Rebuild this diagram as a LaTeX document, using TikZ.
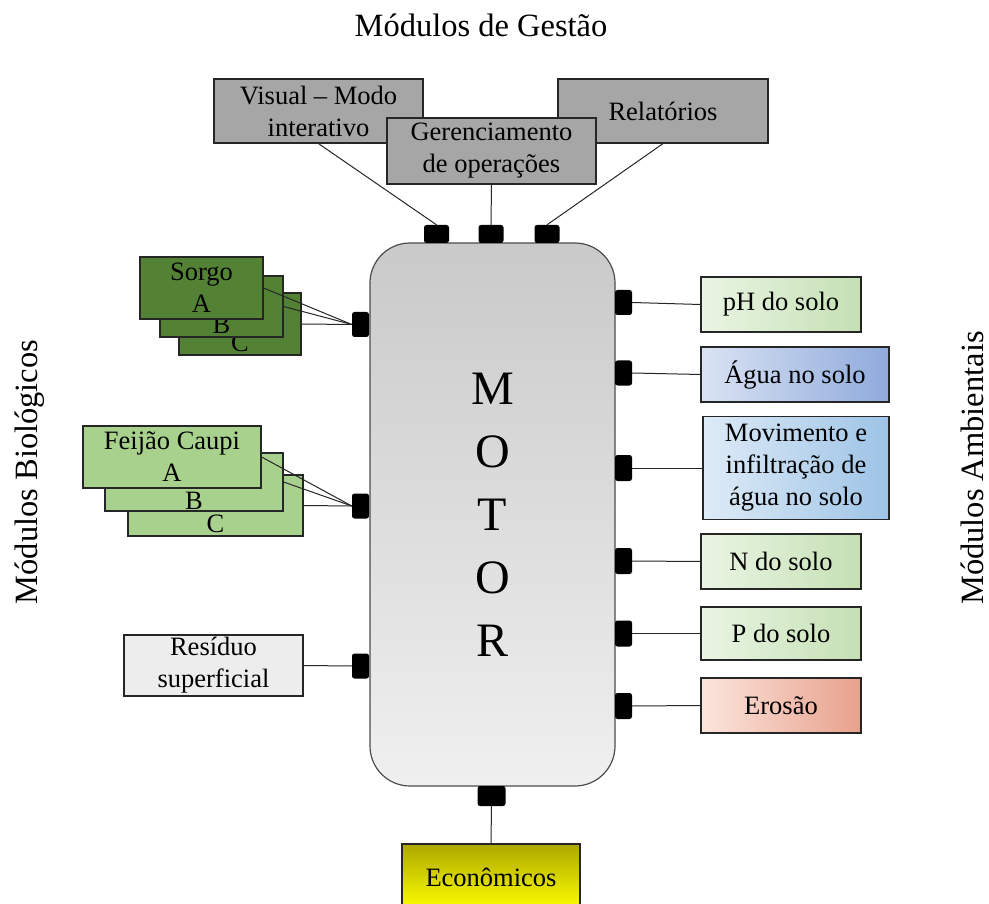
\documentclass[tikz,border=0pt]{standalone}
\usepackage{fontspec}
\setmainfont{Liberation Serif}

\definecolor{cinza}{RGB}{166,166,166}
\definecolor{residuo}{RGB}{237,237,237}
\definecolor{sorgo}{RGB}{84,130,53}
\definecolor{feijao}{RGB}{169,209,142}
\definecolor{verdeA}{RGB}{234,245,228}
\definecolor{verdeB}{RGB}{197,224,180}
\definecolor{azulA}{RGB}{218,227,243}
\definecolor{azulB}{RGB}{143,170,220}
\definecolor{celesteA}{RGB}{222,235,247}
\definecolor{celesteB}{RGB}{157,195,230}
\definecolor{rosaA}{RGB}{251,229,220}
\definecolor{rosaB}{RGB}{232,160,140}
\definecolor{oliva}{RGB}{172,168,0}

\begin{document}
\begin{tikzpicture}[yscale=-1
  ,pstyle0/.style={draw=black!85,line width=1.2pt,inner sep=0pt,align=center,font=\fontsize{26.5}{32}\selectfont}
  ,pstyle1/.style={color=black!85,line width=1pt}
  ,pstyle2/.style={fill=black,rounded corners=2.5pt,inner sep=0pt}
  ,pstyle3/.style={font=\fontsize{32.5}{38}\selectfont}
]
\useasboundingbox (0pt,0pt) rectangle (989pt,904pt);

% --- Titles ---
\node[pstyle3] (gestao) at (481pt,25pt) {Módulos de Gestão};
\node[pstyle3,rotate=90] (bio) at (30pt,472pt) {Módulos Biológicos};
\node[pstyle3,rotate=90] (amb) at (972pt,468pt) {Módulos Ambientais};

% --- Motor ---
\node[draw=black!70,line width=1.2pt,rounded corners=40pt,top color=black!21,bottom color=black!6
  ,minimum width=245pt,minimum height=543pt,align=center,font=\fontsize{48}{63}\selectfont]
  (motor) at (492.5pt,514.5pt) {M\\O\\T\\O\\R};

% --- Management modules ---
\node[pstyle0,fill=cinza,minimum width=209pt,minimum height=64pt] (vis) at (318.5pt,111pt) {Visual -- Modo\\interativo};
\node[pstyle0,fill=cinza,minimum width=210pt,minimum height=64pt] (rel) at (663pt,111pt) {Relatórios};
\node[pstyle0,fill=cinza,minimum width=209pt,minimum height=66pt] (ger) at (491.5pt,151pt) {Gerenciamento\\de operações};

% --- Biological modules ---
\node[pstyle0,fill=sorgo,minimum width=122pt,minimum height=62pt] (sorC) at (240pt,324pt) {\strut\\C};
\node[pstyle0,fill=sorgo,minimum width=123pt,minimum height=61pt] (sorB) at (221.5pt,306.5pt) {\strut\\B};
\node[pstyle0,fill=sorgo,minimum width=123pt,minimum height=62pt] (sorA) at (201.5pt,288pt) {Sorgo\\A};

\node[pstyle0,fill=feijao,minimum width=175pt,minimum height=61pt] (feiC) at (215.5pt,505.5pt) {\strut\\C};
\node[pstyle0,fill=feijao,minimum width=178pt,minimum height=58pt] (feiB) at (194pt,482pt) {\strut\\B};
\node[pstyle0,fill=feijao,minimum width=178pt,minimum height=62pt] (feiA) at (172pt,457pt) {Feijão Caupi\\A};

\node[pstyle0,fill=residuo,minimum width=179pt,minimum height=61pt] (res) at (213.5pt,665.5pt) {Resíduo\\superficial};

% --- Environmental modules ---
\node[pstyle0,left color=verdeA,right color=verdeB,minimum width=160pt,minimum height=55pt] (ph) at (781pt,304.5pt) {pH do solo};
\node[pstyle0,left color=azulA,right color=azulB,minimum width=188pt,minimum height=55pt] (agua) at (795pt,374.5pt) {Água no solo};
\node[pstyle0,left color=celesteA,right color=celesteB,minimum width=186pt,minimum height=103pt] (mov) at (796pt,468pt) {Movimento e\\infiltração de\\água no solo};
\node[pstyle0,left color=verdeA,right color=verdeB,minimum width=160pt,minimum height=55pt] (nsolo) at (781pt,561.5pt) {N do solo};
\node[pstyle0,left color=verdeA,right color=verdeB,minimum width=160pt,minimum height=53pt] (psolo) at (781pt,633.5pt) {P do solo};
\node[pstyle0,left color=rosaA,right color=rosaB,minimum width=160pt,minimum height=55pt] (ero) at (781pt,705.5pt) {Erosão};

% --- Economic module ---
\node[pstyle0,top color=oliva,bottom color=yellow,minimum width=178pt,minimum height=66pt] (eco) at (491pt,877pt) {Econômicos};

% --- Plugs on the motor ---
\node[pstyle2,minimum width=25pt,minimum height=18pt] (pv) at (436.5pt,234pt) {};
\node[pstyle2,minimum width=25pt,minimum height=18pt] (pg) at (491pt,234pt) {};
\node[pstyle2,minimum width=25pt,minimum height=18pt] (pr) at (547pt,234pt) {};
\node[pstyle2,minimum width=28pt,minimum height=20pt] (peco) at (491.5pt,796pt) {};

\node[pstyle2,minimum width=17pt,minimum height=25pt] (psor) at (360.5pt,324.5pt) {};
\node[pstyle2,minimum width=17pt,minimum height=25pt] (pfei) at (360.5pt,506pt) {};
\node[pstyle2,minimum width=17pt,minimum height=25pt] (pres) at (360.5pt,666pt) {};

\node[pstyle2,minimum width=17pt,minimum height=25pt] (pph) at (623.5pt,302.5pt) {};
\node[pstyle2,minimum width=17pt,minimum height=25pt] (pagu) at (623.5pt,373pt) {};
\node[pstyle2,minimum width=17pt,minimum height=26pt] (pmov) at (623.5pt,468pt) {};
\node[pstyle2,minimum width=17pt,minimum height=26pt] (pn) at (623.5pt,561pt) {};
\node[pstyle2,minimum width=17pt,minimum height=26pt] (pp) at (623.5pt,633.5pt) {};
\node[pstyle2,minimum width=17pt,minimum height=26pt] (pero) at (623.5pt,706pt) {};

% --- Links ---
\draw[pstyle1] (vis.south) -- (pv.north);
\draw[pstyle1] (ger.south) -- (pg.north);
\draw[pstyle1] (rel.south) -- (pr.north);

\draw[pstyle1] (sorA.east) -- (psor.west);
\draw[pstyle1] (sorB.east) -- (psor.west);
\draw[pstyle1] (sorC.east) -- (psor.west);

\draw[pstyle1] (feiA.east) -- (pfei.west);
\draw[pstyle1] (feiB.east) -- (pfei.west);
\draw[pstyle1] (feiC.east) -- (pfei.west);

\draw[pstyle1] (res.east) -- (pres.west);

\draw[pstyle1] (pph.east) -- (ph.west);
\draw[pstyle1] (pagu.east) -- (agua.west);
\draw[pstyle1] (pmov.east) -- (mov.west);
\draw[pstyle1] (pn.east) -- (nsolo.west);
\draw[pstyle1] (pp.east) -- (psolo.west);
\draw[pstyle1] (pero.east) -- (ero.west);

\draw[pstyle1] (peco.south) -- (eco.north);

\end{tikzpicture}
\end{document}
